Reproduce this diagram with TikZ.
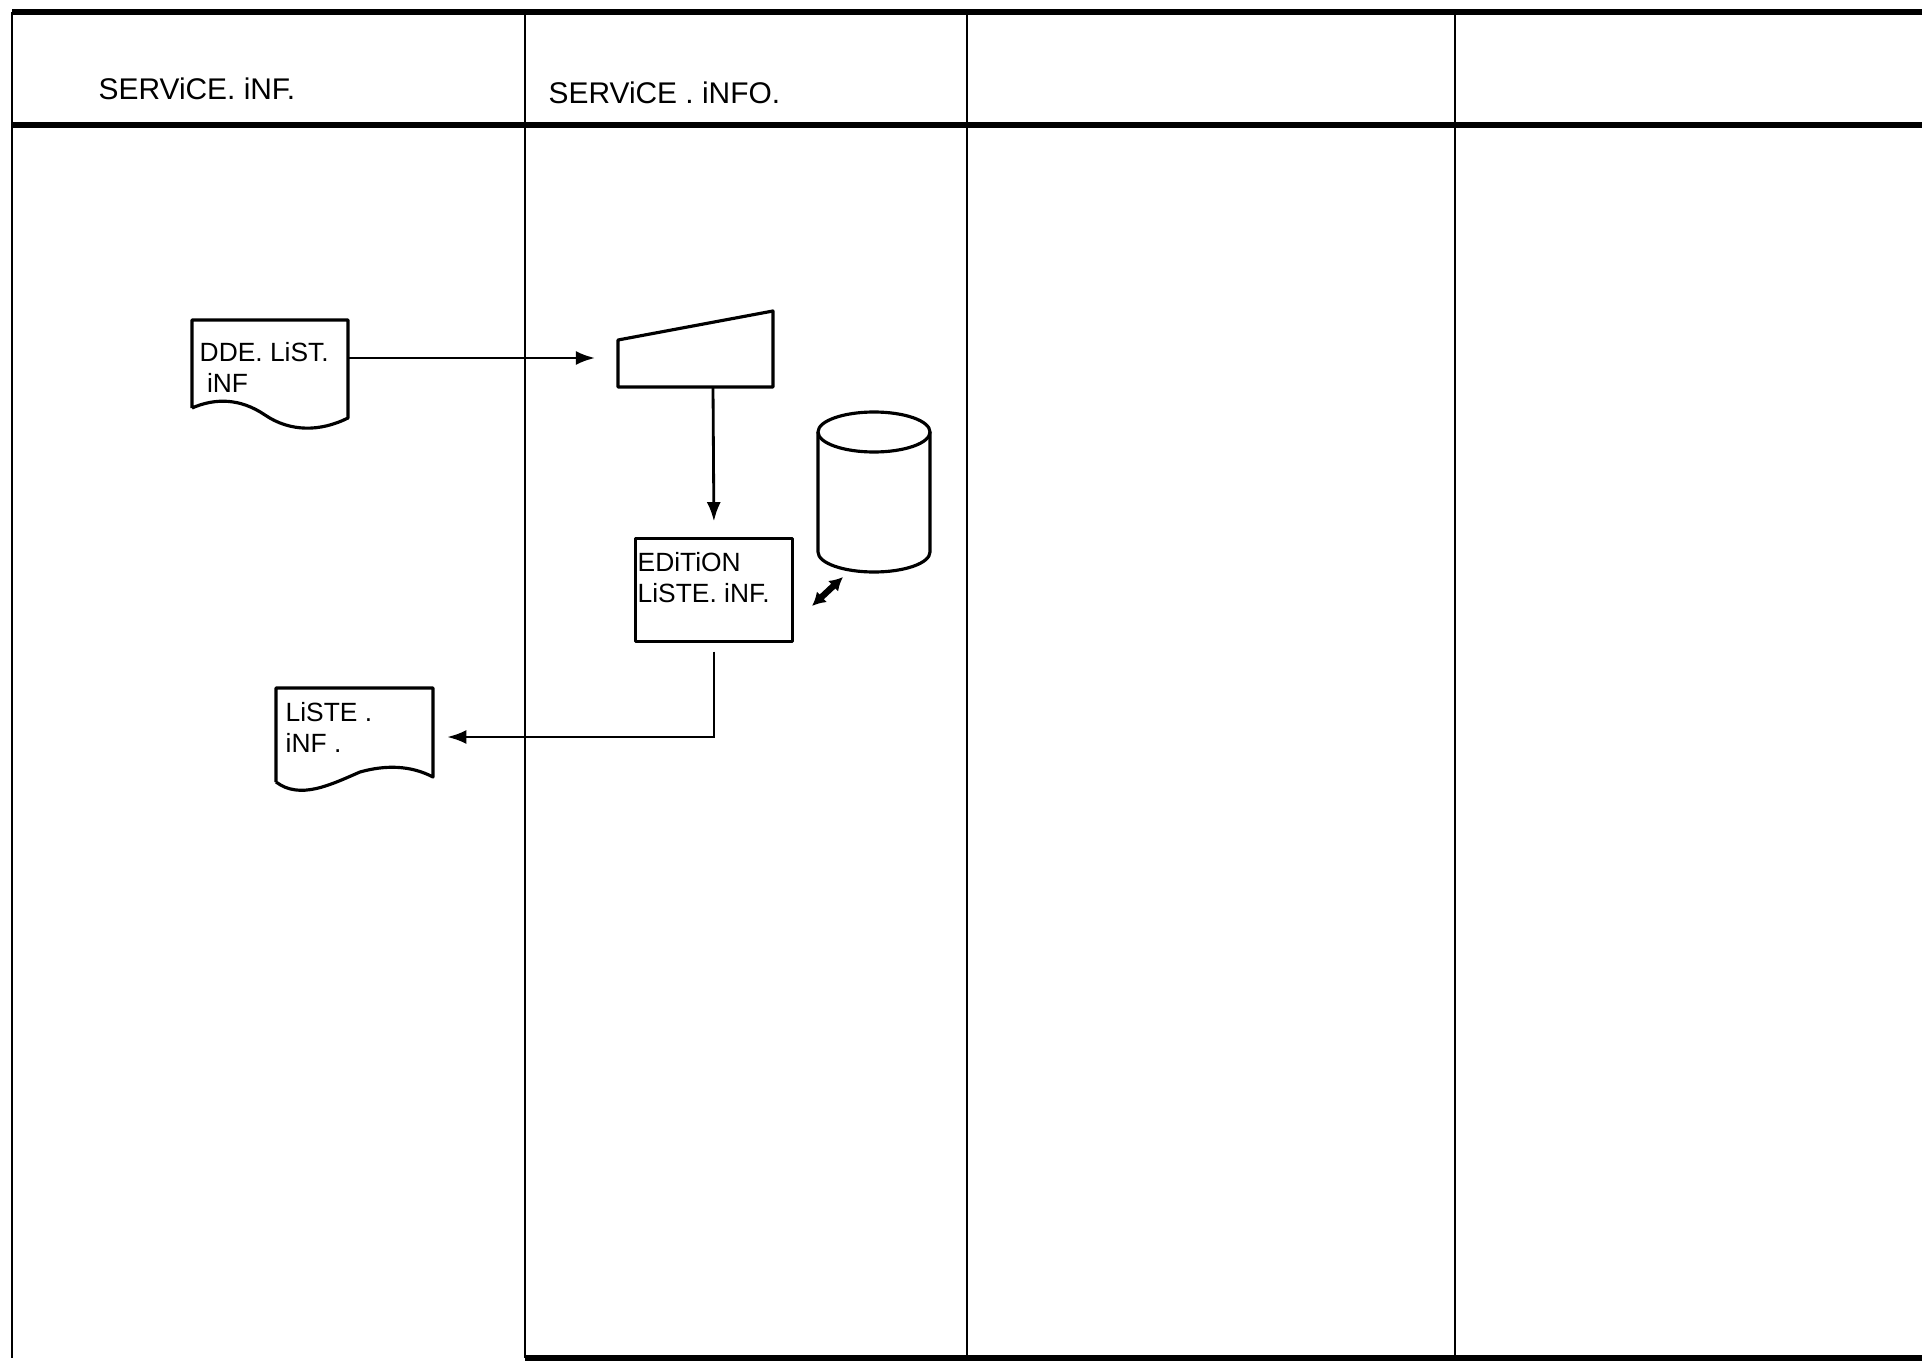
\documentclass[tikz,border=0pt]{standalone}
\usepackage{fontspec}
\usepackage{tikz}
\usetikzlibrary{arrows.meta,calc}
\newfontfamily\handfont{Liberation Sans}

\tikzset{
  frameline/.style={line width=1.5pt},
  laneline/.style={line width=0.7pt},
  outline/.style={line width=0.9pt, line join=round},
  flow/.style={line width=0.8pt, -{Latex[length=5.5pt,width=4pt]}},
  iolink/.style={line width=1.8pt, {Latex[length=3.8pt,width=4.2pt]}-{Latex[length=3.8pt,width=4.2pt]}},
  lanetitle/.style={font=\handfont\fontsize{8.5}{10}\selectfont, inner sep=0pt, anchor=north west},
  hand/.style={font=\handfont\fontsize{7.5}{8.6}\selectfont, inner sep=0pt, anchor=north west, align=left},
  procbox/.style={draw, outline, minimum width=44.8pt, minimum height=29.5pt, inner sep=0pt},
}

\begin{document}
\begin{tikzpicture}[x=0.01cm,y=-0.01cm]
\useasboundingbox (0,0) rectangle (1922,1361);

% ========= cadre et couloirs =========
\draw[frameline] (12,12) -- (1922,12);
\draw[frameline] (12,125) -- (1922,125);
\draw[frameline] (525,1358) -- (1922,1358);
\foreach \x in {12,525,967,1455}
  \draw[laneline] (\x,12) -- (\x,1358);

\node[lanetitle] (lane1) at (98,77) {SERViCE. iNF.};
\node[lanetitle] (lane2) at (548,81) {SERViCE . iNFO.};

% ========= demande (document) =========
\draw[outline] (192,408) -- (192,320) -- (348,320) -- (348,418)
  .. controls (320,432) and (290,432) .. (265,415)
  .. controls (240,398) and (215,398) .. (192,408);
\node[hand] (dde) at (199,342) {DDE. LiST.\\\ iNF};
\coordinate (dde-e) at (348,358);

% ========= saisie (trapeze) =========
\draw[outline] (618,387) -- (618,340) -- (773,311) -- (773,387) -- cycle;
\coordinate (inp-w) at (618,358);
\coordinate (inp-s) at (713,387);

% ========= traitement =========
\node[procbox] (edit) at (714,590) {};
\node[hand] (edit-t) at (637,552) {EDiTiON\\LiSTE. iNF.};

% ========= fichier (cylindre) =========
\draw[outline] (818,432) -- (818,552) arc[start angle=180, end angle=0, x radius=56, y radius=20] -- (930,432);
\draw[outline] (874,432) ellipse [x radius=56, y radius=20];
\coordinate (io-a) at (812,606);
\coordinate (io-b) at (843,577);

% ========= liste (document) =========
\draw[outline] (276,782) -- (276,688) -- (433,688) -- (433,777)
  .. controls (410,765) and (385,765) .. (360,772)
  .. controls (330,785) and (300,800) .. (276,782);
\node[hand] (lst) at (285,702) {LiSTE .\\iNF .};
\coordinate (lst-e) at (433,737);

% ========= liaisons =========
\draw[flow, shorten >=6.5pt] (dde-e) -- (inp-w);
\draw[flow, shorten >=4.3pt] (inp-s) -- (edit.north);
\draw[flow, shorten <=2.3pt, shorten >=4pt] (edit.south) |- (lst-e);
\draw[iolink] (io-a) -- (io-b);
\end{tikzpicture}
\end{document}
